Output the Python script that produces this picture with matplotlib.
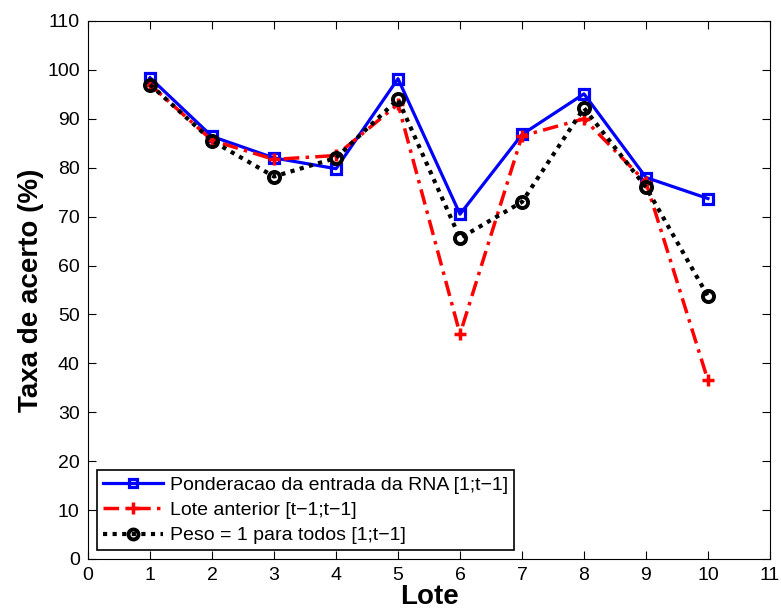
import numpy as np
import matplotlib.pyplot as plt

plt.rcParams['font.family'] = ['Liberation Sans', 'DejaVu Sans']

lote = [1, 2, 3, 4, 5, 6, 7, 8, 9, 10]
rna = [98.4, 86.4, 82.0, 79.8, 98.2, 70.5, 86.8, 95.1, 78.0, 73.7]
anterior = [97.0, 85.6, 81.7, 82.5, 93.0, 46.0, 86.5, 90.0, 77.0, 36.5]
peso1 = [97.0, 85.5, 78.2, 82.0, 94.0, 65.6, 73.0, 92.2, 76.0, 53.7]

fig = plt.figure(figsize=(7.81, 6.14), dpi=100)
ax = fig.add_axes([0.1127, 0.0896, 0.8732, 0.8762])

ax.plot(lote, rna, '-', color='blue', lw=2.3, marker='s', ms=7,
        mfc='none', mec='blue', mew=2.3, label='Ponderacao da entrada da RNA [1;t\u22121]')
ax.plot(lote, anterior, color='red', lw=2.5, ls=(0, (4.5, 1.8, 1, 1.8)),
        marker='+', ms=9, mew=2.5, label='Lote anterior [t\u22121;t\u22121]')
ax.plot(lote, peso1, color='black', lw=3, ls=(0, (1, 1.3)), marker='o', ms=8,
        mfc='none', mec='black', mew=2.8, label='Peso = 1 para todos [1;t\u22121]')

ax.set_xlim(0, 11)
ax.set_ylim(0, 110)
ax.set_xticks(np.arange(0, 12, 1))
ax.set_yticks(np.arange(0, 111, 10))
ax.tick_params(direction='in', top=True, right=True, labelsize=14, length=6, pad=6)
ax.set_xlabel('Lote', fontsize=20, fontweight='bold', labelpad=0)
ax.set_ylabel('Taxa de acerto (%)', fontsize=20, fontweight='bold', labelpad=2)

leg = ax.legend(loc='lower left', fontsize=14, fancybox=False, framealpha=1,
                edgecolor='black', borderpad=0.3, labelspacing=0.4,
                handlelength=3.1, handletextpad=0.35, borderaxespad=0.45,
                markerscale=0.9)
leg.get_frame().set_linewidth(1.2)

fig.savefig('out.png', dpi=100)
